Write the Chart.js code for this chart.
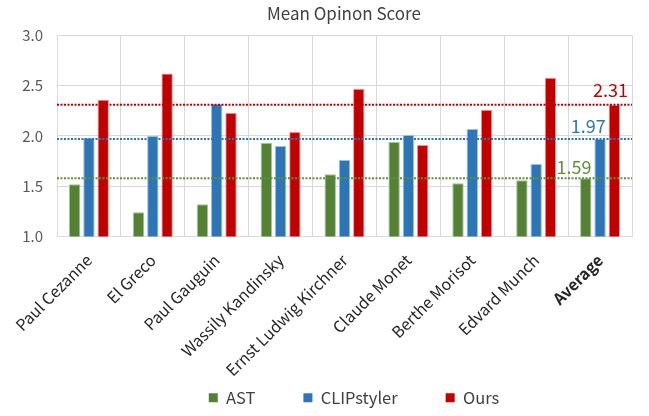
<!DOCTYPE html>
<html>
<head>
<meta charset="utf-8">
<title>Mean Opinon Score</title>
<script src="https://cdn.jsdelivr.net/npm/chart.js@4.4.1/dist/chart.umd.min.js"></script>
<style>
  html, body { margin: 0; padding: 0; background: #fff; }
  #chart { display: block; }
</style>
</head>
<body>
<canvas id="chart" width="649" height="416"></canvas>
<script>
// Chart data
const categories = ['Paul Cezanne', 'El Greco', 'Paul Gauguin', 'Wassily Kandinsky', 'Ernst Ludwig Kirchner',
  'Claude Monet', 'Berthe Morisot', 'Edvard Munch', 'Average'];
const astScores = [1.52, 1.24, 1.32, 1.93, 1.62, 1.94, 1.53, 1.56, 1.58];
const clipScores = [1.98, 2.00, 2.32, 1.90, 1.76, 2.01, 2.07, 1.72, 1.97];
const oursScores = [2.36, 2.62, 2.23, 2.04, 2.47, 1.91, 2.26, 2.58, 2.31];
const meanLines = [1.58, 1.97, 2.31];
const meanLabels = ['1.59', '1.97', '2.31'];
const yTicks = [1.0, 1.5, 2.0, 2.5, 3.0];

const FONT = '"Noto Sans CJK SC", "Noto Sans", sans-serif';
const colors = ['#548235', '#2E75B6', '#C00000'];
const edges = ['#a9c296', '#9cc0e0', '#e89a9a'];
const lineColors = ['#5f9238', '#2E75B6', '#C00000'];

// Dotted mean lines with their value labels
const meanLinePlugin = {
  id: 'meanLines',
  afterLayout(chart) {
    // title and legend sit centred a bit right of the canvas middle
    chart.titleBlock.left += 28; chart.titleBlock.right += 28;
    chart.legend.left += 38; chart.legend.right += 38;
    // let the rotated labels run down past the legend's top edge
    chart.scales.x.bottom = chart.height;
  },
  afterDatasetsDraw(chart) {
    const { ctx, chartArea, scales } = chart;
    ctx.save();
    meanLines.forEach((v, i) => {
      const y = scales.y.getPixelForValue(v);
      ctx.strokeStyle = lineColors[i];
      ctx.lineWidth = 2;
      ctx.setLineDash([2, 1.5]);
      ctx.beginPath();
      ctx.moveTo(chartArea.left, y);
      ctx.lineTo(chartArea.right, y);
      ctx.stroke();
    });
    ctx.setLineDash([]);
    ctx.font = '18px ' + FONT;
    ctx.textAlign = 'right';
    ctx.textBaseline = 'bottom';
    const last = categories.length - 1;
    const shift = [0, 0, 8];
    const lift = [2, 4, 6];
    meanLines.forEach((v, i) => {
      const bar = chart.getDatasetMeta(i).data[last];
      const y = scales.y.getPixelForValue(v);
      ctx.fillStyle = lineColors[i];
      ctx.fillText(meanLabels[i], bar.x + bar.width / 2 + shift[i], y - lift[i]);
    });
    ctx.restore();
  }
};

const ctx = document.getElementById('chart').getContext('2d');
new Chart(ctx, {
  type: 'bar',
  data: {
    labels: categories,
    datasets: [
      { label: 'AST', data: astScores, backgroundColor: colors[0], borderColor: edges[0], borderWidth: 1 },
      { label: 'CLIPstyler', data: clipScores, backgroundColor: colors[1], borderColor: edges[1], borderWidth: 1 },
      { label: 'Ours', data: oursScores, backgroundColor: colors[2], borderColor: edges[2], borderWidth: 1 }
    ]
  },
  options: {
    responsive: false,
    animation: false,
    layout: { padding: { left: 0, right: 17, top: 1, bottom: 0 } },
    datasets: { bar: { categoryPercentage: 0.67, barPercentage: 0.8 } },
    plugins: {
      title: {
        display: true,
        text: 'Mean Opinon Score',
        color: '#404040',
        font: { family: FONT, size: 17, weight: 'normal' },
        padding: { top: 2, bottom: 12 }
      },
      legend: {
        position: 'bottom',
        labels: {
          color: '#404040',
          font: { family: FONT, size: 16.5 },
          boxWidth: 9,
          boxHeight: 9,
          padding: 48,
          generateLabels(chart) {
            return chart.data.datasets.map((ds, i) => ({
              text: ds.label, fillStyle: colors[i], strokeStyle: colors[i],
              lineWidth: 0, datasetIndex: i, fontColor: '#404040'
            }));
          }
        }
      },
      tooltip: { enabled: false }
    },
    scales: {
      x: {
        grid: { color: '#d9d9d9', drawTicks: false, offset: true },
        border: { color: '#d9d9d9' },
        ticks: {
          color: '#262626',
          maxRotation: 45,
          minRotation: 45,
          padding: 14,
          font: ctx => ({ family: FONT, size: 16, weight: ctx.index === categories.length - 1 ? 'bold' : 'normal' })
        },
        afterFit(scale) { scale.height = 105; }
      },
      y: {
        min: 1.0,
        max: 3.0,
        grid: { color: '#d9d9d9', drawTicks: false },
        border: { color: '#d9d9d9' },
        afterBuildTicks(scale) { scale.ticks = yTicks.map(v => ({ value: v })); },
        ticks: {
          color: '#595959',
          padding: 14,
          font: { family: FONT, size: 15 },
          callback: v => Number(v).toFixed(1)
        },
        afterFit(scale) { scale.width = 57; }
      }
    }
  },
  plugins: [meanLinePlugin]
});
</script>
</body>
</html>
